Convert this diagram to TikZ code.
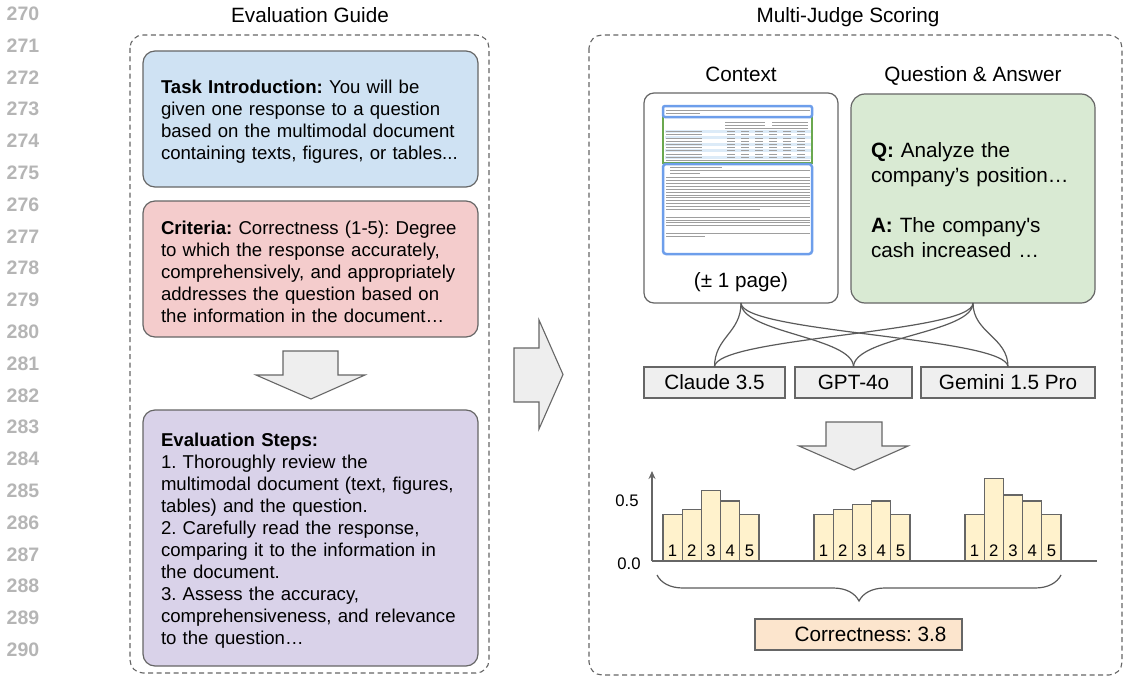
\documentclass[tikz,border=0pt]{standalone}
\usepackage{fontspec}
\setmainfont{Liberation Sans}
\usetikzlibrary{positioning}
\usetikzlibrary{arrows.meta}
\usetikzlibrary{decorations.pathreplacing}

\definecolor{edgegray}{HTML}{666666}
\definecolor{wiregray}{HTML}{5A5A5A}
\definecolor{linenumgray}{HTML}{B5B5B5}
\definecolor{taskblue}{HTML}{CFE2F3}
\definecolor{critpink}{HTML}{F4CCCC}
\definecolor{steppurple}{HTML}{D9D2E9}
\definecolor{qagreen}{HTML}{D9EAD3}
\definecolor{modelgray}{HTML}{EFEFEF}
\definecolor{scoreorange}{HTML}{FCE5CD}
\definecolor{baryellow}{HTML}{FFF2CC}
\definecolor{arrowfill}{HTML}{EEEEEE}
\definecolor{docblue}{HTML}{6D9EEB}
\definecolor{docgreen}{HTML}{6AA84F}
\definecolor{docstripe}{HTML}{DCEBF8}

\frenchspacing
\hyphenpenalty=10000

\begin{document}
\begin{tikzpicture}[x=1pt, y=-1pt,
    every node/.style={inner sep=0pt, outer sep=0pt, font=\fontsize{20.7}{25}\selectfont},
    oneline/.style={text height=14.8pt, text depth=0pt},
    lineno/.style={font=\fontsize{19.5}{20}\selectfont\bfseries, text=linenumgray, text height=14pt, text depth=0pt},
    panel/.style={draw=edgegray, line width=1.1pt, dash pattern=on 5pt off 3.5pt, rounded corners=13pt},
    guidebox/.style={draw=edgegray, line width=1.2pt, rounded corners=12pt, text width=299pt, inner xsep=18pt,
                     align=left, text height=19.6pt, font=\fontsize{18.6}{22}\selectfont},
    modelbox/.style={draw=edgegray, line width=1.2pt, fill=modelgray, minimum height=31pt, oneline},
    blockarrow/.style={draw=edgegray, line width=1.1pt, fill=arrowfill, line join=miter},
    wire/.style={draw=wiregray, line width=1.2pt},
    axisline/.style={draw=edgegray, line width=1.3pt},
    bar/.style={draw=edgegray, line width=1.2pt, fill=baryellow},
    small/.style={font=\fontsize{16.7}{18}\selectfont, text height=12pt, text depth=0pt},
    docline/.style={draw=black!38, line width=0.8pt}]

\useasboundingbox (0,0) rectangle (1126,677);

\foreach \n [evaluate=\n as \num using int(270+\n)] in {0,...,20}
  \node[lineno] (line\num) at (23,13.5+31.8*\n) {\num};

\node[oneline] (guidetitle) at (310,15) {Evaluation Guide};
\draw[panel] (130,35) rectangle (489,673);

\node[guidebox, fill=taskblue, minimum height=136pt] (task) at (310.5,119)
  {\textbf{Task Introduction:} You will be\\
   given one response to a question\\
   based on the multimodal document\\
   containing texts, figures, or tables...};
\node[guidebox, fill=critpink, minimum height=136pt, below=14pt of task] (criteria)
  {\textbf{Criteria:} Correctness (1-5): Degree\\
   to which the response accurately,\\
   comprehensively, and appropriately\\
   addresses the question based on\\
   the information in the document…};
\draw[blockarrow] (283,351) -- (338,351) -- (338,375) -- (365,375) -- (311,399)
  -- (256,375) -- (283,375) -- cycle;
\node[guidebox, fill=steppurple, minimum height=256pt] (steps) at (310.5,538)
  {\textbf{Evaluation Steps:}\\
   1. Thoroughly review the\\
   multimodal document (text, figures,\\
   tables) and the question.\\
   2. Carefully read the response,\\
   comparing it to the information in\\
   the document.\\
   3. Assess the accuracy,\\
   comprehensiveness, and relevance\\
   to the question…};

\draw[blockarrow] (514,348) -- (539,348) -- (539,320) -- (563,374.5) -- (539,429)
  -- (539,402) -- (514,402) -- cycle;

\node[oneline] (scoretitle) at (848,15) {Multi-Judge Scoring};
\draw[panel] (589,35) rectangle (1122,675);

\node[oneline] (ctxlabel) at (741,74) {Context};
\node[oneline] (qalabel) at (973,74) {Question \& Answer};

\node[draw=edgegray, line width=1.2pt, rounded corners=10pt, fill=white,
      minimum width=194pt, minimum height=210pt] (ctx) at (741,198) {};
\node[draw=edgegray, line width=1.2pt, rounded corners=14pt, fill=qagreen,
      minimum width=244pt, minimum height=209pt, text width=204pt, inner xsep=20pt,
      align=left, text height=19.1pt]
  (qa) at (973,198.5)
  {\textbf{Q:} Analyze the\\
   company’s position…\\[25pt]
   \textbf{A:} The company\textquotesingle s\\
   cash increased …};

\draw[docgreen, line width=2.5pt] (663,117) rectangle (812,163);
\foreach \r in {0,2,4,6,8}
  \fill[docstripe] (664.5,130+3.2*\r) rectangle (810.5,133+3.2*\r);
\draw[docline] (666,110.5) -- (810,110.5) (666,113.5) -- (700,113.5);
\draw[docline] (725,122) -- (765,122) (772,122) -- (808,122)
               (725,125) -- (765,125) (772,125) -- (808,125)
               (725,128) -- (808,128);
\foreach \r in {0,...,8} {
  \draw[docline] (666,131.5+3.2*\r) -- (702,131.5+3.2*\r);
  \foreach \c in {0,...,5}
    \draw[docline] (727+14*\c,131.5+3.2*\r) -- (735+14*\c,131.5+3.2*\r);
}
\draw[docline] (666,160) -- (810,160);
\draw[docline] (670,167) -- (722,167) (670,170) -- (810,170) (670,173) -- (700,173);
\foreach \r in {0,...,10}
  \draw[docline] (666,177.5+2.9*\r) -- (810,177.5+2.9*\r);
\draw[docline] (666,209) -- (760,209);
\foreach \r in {0,...,3}
  \draw[docline] (666,217+2.9*\r) -- (810,217+2.9*\r);
\draw[docline] (666,233) -- (810,233) (666,236) -- (705,236);
\draw[docblue, line width=2.5pt, rounded corners=2pt] (663,106) rectangle (812,117);
\draw[docblue, line width=2.5pt, rounded corners=3pt] (663,164) rectangle (812,254);
\node (pagenote) at (741,282) {(± 1 page)};

\node[modelbox, minimum width=117pt] (gpt) at (853.5,382.5) {GPT-4o};
\node[modelbox, minimum width=141pt, left=10pt of gpt] (claude) {Claude 3.5};
\node[modelbox, minimum width=174pt, right=9pt of gpt] (gemini) {Gemini 1.5 Pro};

\foreach \src in {ctx,qa}
  \foreach \dst in {claude,gpt,gemini}
    \draw[wire] (\src.south) .. controls +(0,30) and +(0,-30) .. (\dst.north);

\draw[blockarrow] (826,422) -- (882,422) -- (882,446) -- (908,446) -- (854,470)
  -- (799,446) -- (826,446) -- cycle;

\draw[axisline, -{Stealth[length=8pt, width=7pt]}] (652,561) -- (652,471);
\draw[axisline] (652,561) -- (1097,561);
\node[small] (tickhalf) at (627,500) {0.5};
\node[small] (tickzero) at (629,563) {0.0};

\foreach \gx/\vals in {663/{.39,.43,.59,.50,.39}, 814/{.39,.43,.47,.50,.39}, 965/{.39,.69,.55,.50,.39}}
  \foreach \v [count=\i] in \vals {
    \draw[bar] (\gx+19.2*\i-19.2,561) rectangle ++(19.2,-120*\v);
    \node[small] at (\gx+19.2*\i-9.6,550) {\i};
  }

\draw[wire, decorate, decoration={brace, amplitude=26pt, mirror}] (657,575) -- (1061,575);
\node[modelbox, fill=scoreorange, minimum width=207pt] (score) at (858.5,634.5)
  {\hspace*{24pt}Correctness: 3.8};

\end{tikzpicture}
\end{document}
